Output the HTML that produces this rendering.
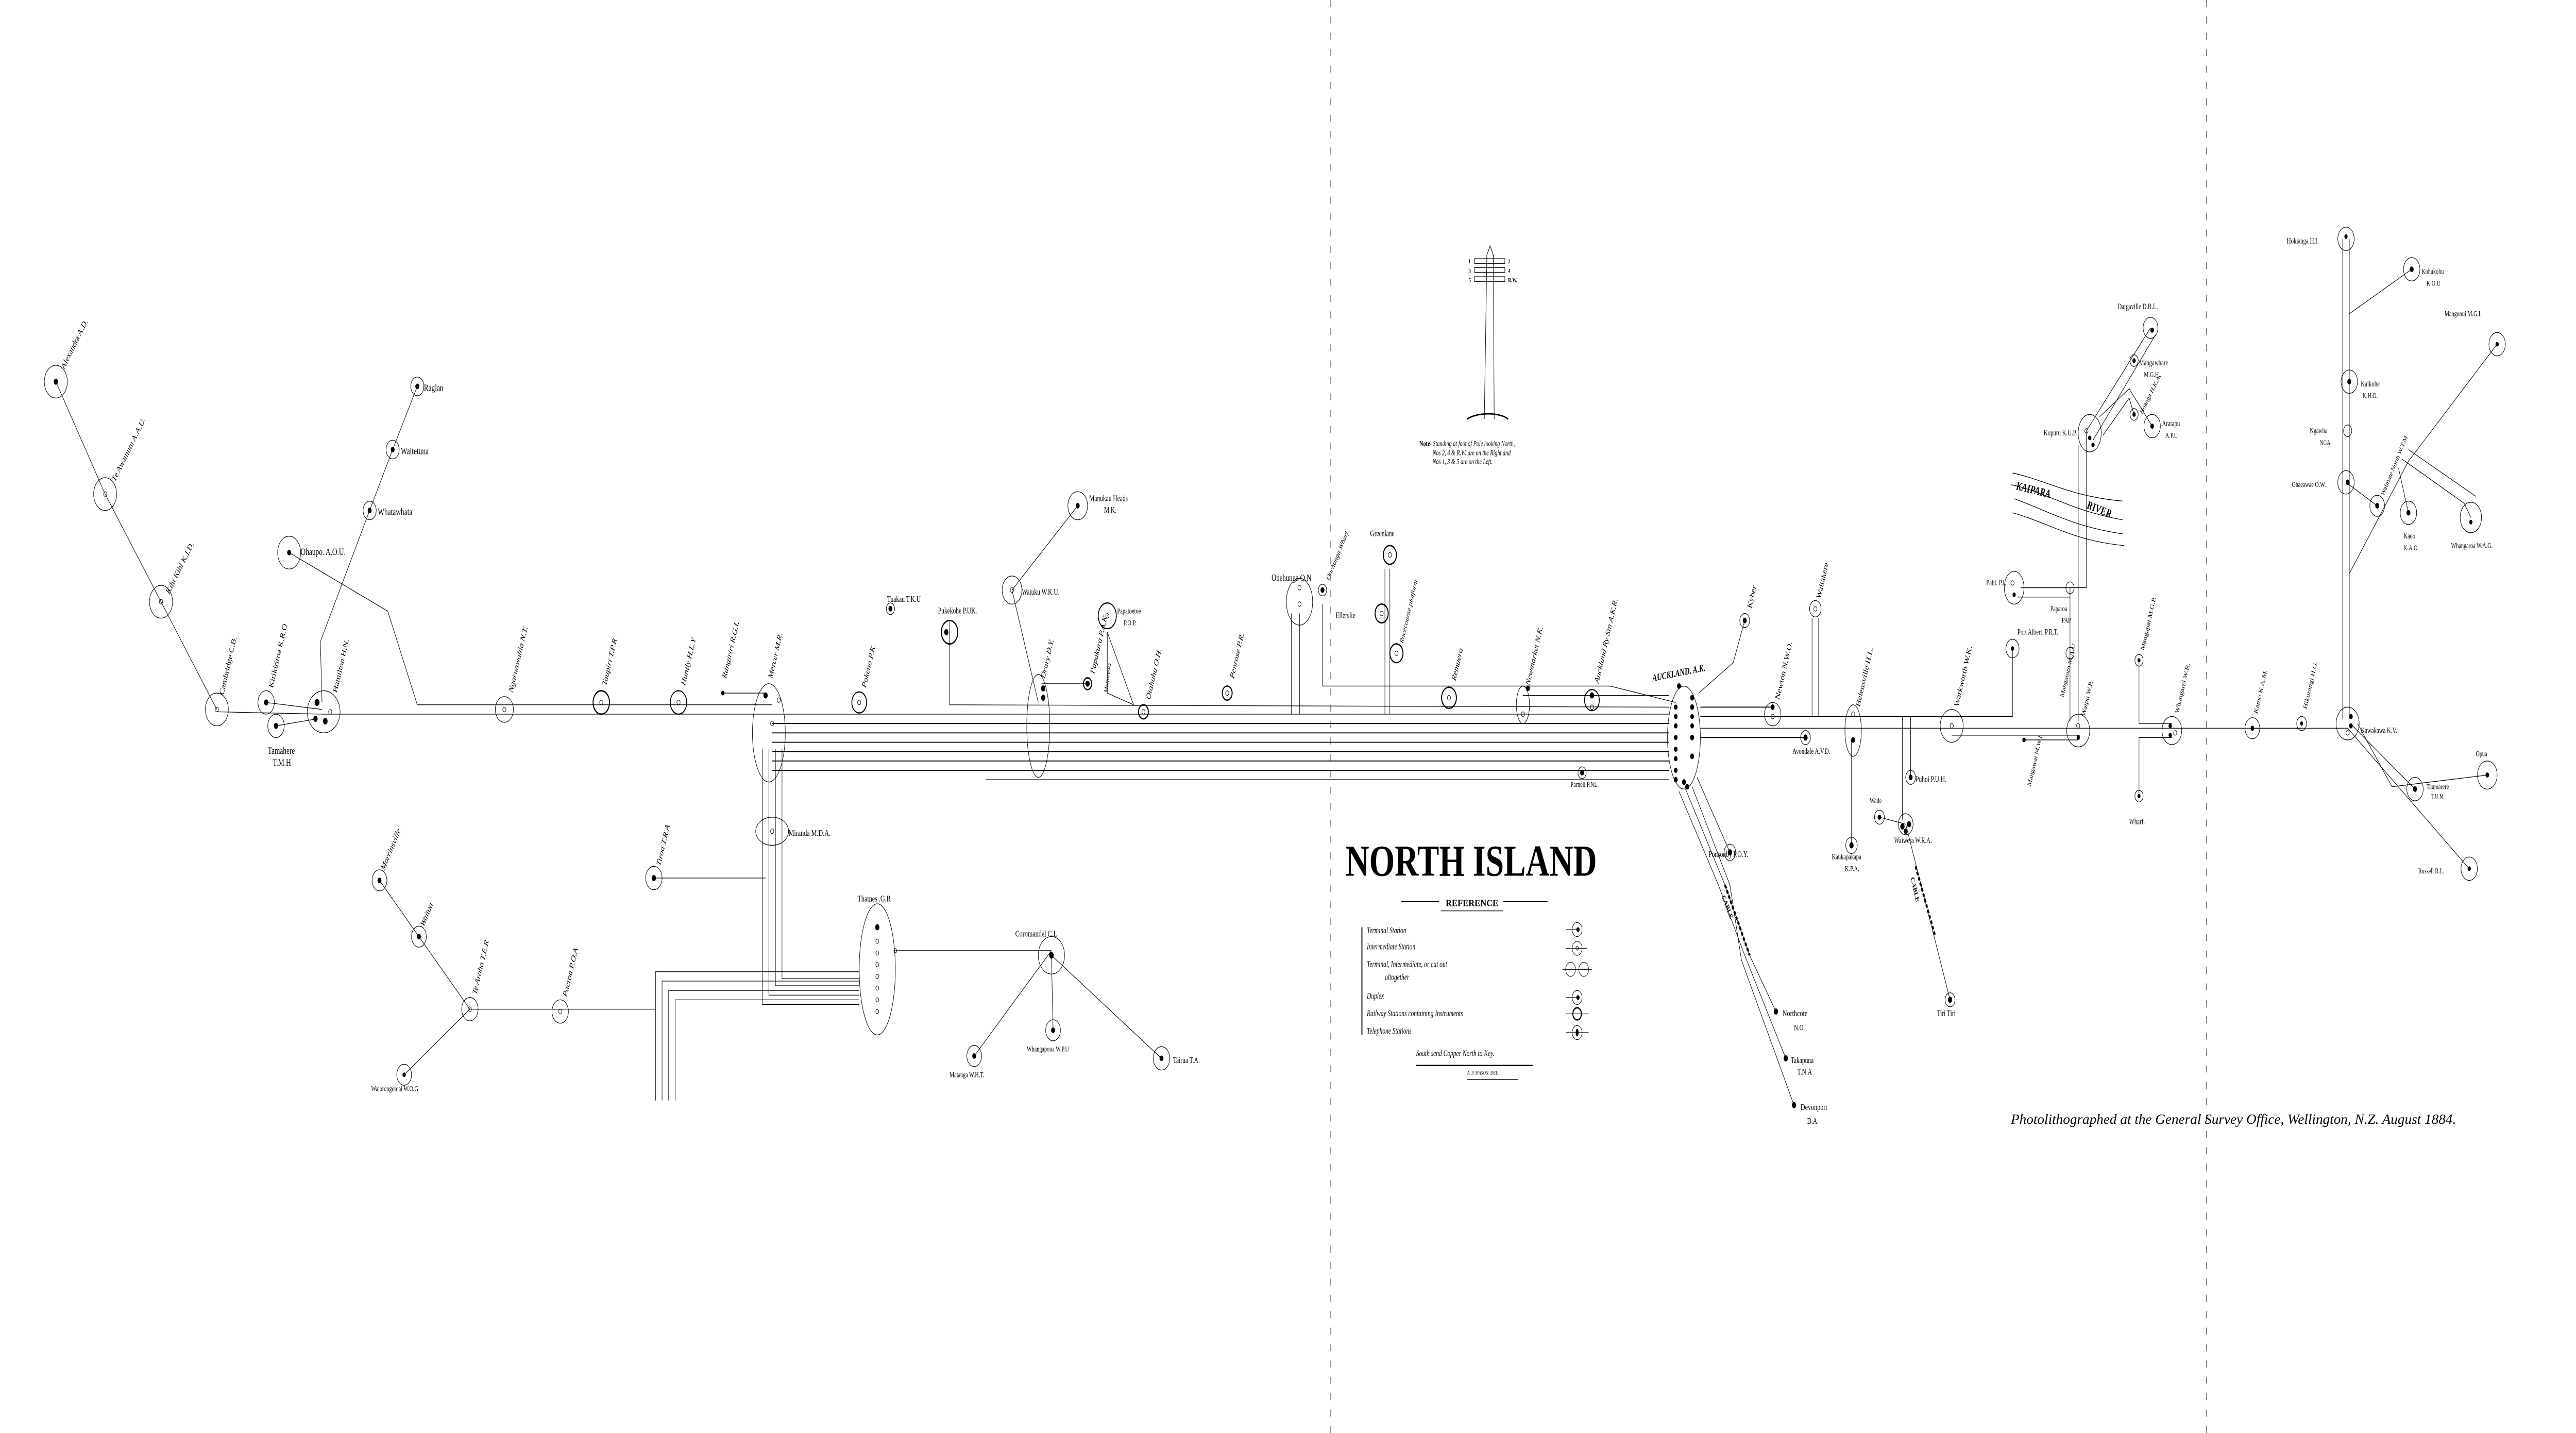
<!DOCTYPE html>
<html><head><meta charset="utf-8"><style>
html,body{margin:0;padding:0;background:#fff;width:100%;height:100%;overflow:hidden;}
svg{display:block;position:fixed;left:0;top:0;width:100vw;height:100vh}
text{font-family:"Liberation Serif",serif;fill:#000}
</style></head><body>
<svg viewBox="0 0 1568 612" preserveAspectRatio="none" xmlns="http://www.w3.org/2000/svg">
<rect width="1568" height="612" fill="#fff"/>
<g fill="none" stroke="#000" stroke-width="0.28">
<line x1="810" y1="0" x2="810" y2="612" stroke-dasharray="3,4" stroke-width="0.2"/>
<line x1="1343" y1="0" x2="1343" y2="612" stroke-dasharray="3,4" stroke-width="0.2"/>

<polyline points="34,163 64,211 98,257 132,303"/>
<polyline points="132,304 197,305"/>
<polyline points="162,300 196,303"/>
<polyline points="168,310 193,307"/>
<polyline points="196,300 195,274 225,218 239,192 254,165"/>
<polyline points="176,236 236,261 254,301 470,301"/>
<line x1="197" y1="305" x2="1016" y2="305"/>
<line x1="440" y1="296" x2="466" y2="296"/>
<polyline points="578,265 578,301 1016,302"/>
<line x1="470" y1="309" x2="1016" y2="309" stroke-width="0.4"/>
<line x1="470" y1="313" x2="1016" y2="313" stroke-width="0.4"/>
<line x1="470" y1="317" x2="1016" y2="317" stroke-width="0.4"/>
<line x1="470" y1="321" x2="1016" y2="321" stroke-width="0.4"/>
<line x1="470" y1="325" x2="1016" y2="325" stroke-width="0.4"/>
<line x1="470" y1="329" x2="1016" y2="329" stroke-width="0.4"/>
<line x1="600" y1="333" x2="1016" y2="333"/>
<polyline points="805,258 805,293 980,293 1020,300"/>
<polyline points="786,262 786,305"/>
<polyline points="791,262 791,305"/>
<polyline points="843,243 843,305"/>
<polyline points="846,243 846,305"/>
<polyline points="662,292 634,292"/>
<polyline points="674,270 674,296 690,301"/>
<polyline points="674,270 690,301"/>
<polyline points="656,216 616,252 632,300"/>
<polyline points="927,297 1016,297"/>
<polyline points="464,320 464,429 523,429"/>
<polyline points="468,320 468,425 523,425"/>
<polyline points="472,320 472,421 523,421"/>
<polyline points="476,320 476,418 523,418"/>
<line x1="398" y1="375" x2="466" y2="375"/>
<polyline points="523,415 399,415 399,470"/>
<polyline points="523,419 403,419 403,470"/>
<polyline points="523,423 407,423 407,470"/>
<polyline points="523,427 411,427 411,470"/>
<polyline points="231,376 255,400 286,431 246,459"/>
<line x1="286" y1="431" x2="399" y2="431"/>
<polyline points="545,406 640,406"/>
<polyline points="640,406 593,451"/>
<polyline points="640,408 641,440"/>
<polyline points="640,408 707,452"/>
<polyline points="1034,296 1055,283 1062,265"/>
<line x1="1035" y1="302" x2="1079" y2="302" stroke-width="0.4"/>
<line x1="1035" y1="306" x2="1190" y2="306"/>
<line x1="1035" y1="311" x2="1429" y2="311"/>
<line x1="1035" y1="315" x2="1099" y2="315" stroke-width="0.4"/>
<polyline points="1103,306 1103,264"/>
<polyline points="1107,306 1107,264"/>
<line x1="1127" y1="316" x2="1127" y2="361"/>
<polyline points="1144,349 1160,352 1187,427"/>
<polyline points="1158,350 1158,306"/>
<polyline points="1163,332 1163,306"/>
<polyline points="1026,337 1050,378 1065,408 1081,432"/>
<polyline points="1022,338 1046,378 1062,408 1087,452"/>
<polyline points="1030,336 1053,378 1060,410 1092,472"/>
<polyline points="1033,332 1053,364"/>
<line x1="1050" y1="378" x2="1065" y2="408" stroke-width="1.2" stroke-dasharray="1.5,1"/>
<line x1="1166" y1="370" x2="1178" y2="400" stroke-width="1.2" stroke-dasharray="1.5,1"/>
<line x1="1188" y1="314" x2="1266" y2="314"/>
<polyline points="1225,277 1225,306 1190,306"/>
<polyline points="1232,316 1265,316"/>
<polyline points="1260,251 1260,308"/>
<polyline points="1270,184 1270,251 1230,251"/>
<polyline points="1228,255 1260,255"/>
<polyline points="1265,308 1265,190"/>
<polyline points="1270,184 1309,140"/>
<polyline points="1274,188 1312,143"/>
<polyline points="1278,178 1296,166 1310,182"/>
<polyline points="1280,186 1296,170 1299,177"/>
<polyline points="1302,282 1302,309 1322,309"/>
<polyline points="1302,340 1302,315 1322,315"/>
<line x1="1426" y1="102" x2="1426" y2="307"/>
<line x1="1430" y1="102" x2="1430" y2="307"/>
<polyline points="1430,134 1468,115"/>
<polyline points="1430,245 1466,197 1520,147"/>
<polyline points="1460,200 1466,219"/>
<polyline points="1462,196 1500,215 1504,221"/>
<polyline points="1466,192 1507,212"/>
<polyline points="1428,206 1447,216"/>
<polyline points="1429,311 1503,371"/>
<polyline points="1432,310 1470,337"/>
<polyline points="1435,309 1456,336 1514,331"/>
<polyline points="1371,311 1401,311"/>
<path d="M1225,202 C1245,205 1260,212 1292,214" stroke-width="0.3"/>
<path d="M1224,207 C1245,210 1260,218 1292,222"/>
<path d="M1226,213 C1246,218 1262,225 1292,228"/>
<path d="M1225,219 C1246,223 1262,231 1293,233"/>

<g>
<circle cx="34" cy="163" r="7"/><circle cx="64" cy="211" r="7"/><circle cx="98" cy="257" r="7"/><circle cx="132" cy="303" r="7"/>
<circle cx="162" cy="300" r="5"/><circle cx="168" cy="310" r="5"/>
<ellipse cx="197" cy="304" rx="10" ry="9"/>
<circle cx="254" cy="165" r="4"/><circle cx="239" cy="192" r="4"/><circle cx="225" cy="218" r="4"/>
<circle cx="176" cy="236" r="7"/>
<circle cx="307" cy="303" r="5.5"/><circle cx="366" cy="300" r="5" stroke-width="0.6"/><circle cx="413" cy="300" r="5" stroke-width="0.5"/>
<ellipse cx="468" cy="313" rx="10" ry="21"/>
<ellipse cx="470" cy="355" rx="10" ry="6"/>
<circle cx="523" cy="300" r="4.5" stroke-width="0.5"/>
<circle cx="542" cy="260" r="2.5"/><circle cx="578" cy="270" r="5" stroke-width="0.6"/>
<circle cx="398" cy="375" r="5"/>
<ellipse cx="534" cy="414" rx="11" ry="28"/>
<circle cx="341" cy="432" r="5"/><circle cx="286" cy="431" r="5"/><circle cx="255" cy="400" r="4.5"/><circle cx="231" cy="376" r="4.5"/><circle cx="246" cy="459" r="4.5"/>
<circle cx="640" cy="408" r="8"/><circle cx="593" cy="451" r="4.5"/><circle cx="641" cy="440" r="4.5"/><circle cx="707" cy="452" r="5"/>
<circle cx="656" cy="216" r="6"/><circle cx="616" cy="252" r="6"/>
<ellipse cx="632" cy="310" rx="7" ry="22"/>
<circle cx="662" cy="292" r="2.5" stroke-width="0.6"/>
<circle cx="674" cy="263" r="5.5" stroke-width="0.5"/>
<circle cx="696" cy="304" r="3" stroke-width="0.6"/>
<circle cx="747" cy="296" r="3" stroke-width="0.6"/>
<ellipse cx="791" cy="257" rx="8" ry="10"/>
<circle cx="805" cy="252" r="2.5"/>
<circle cx="846" cy="237" r="4" stroke-width="0.6"/><circle cx="841" cy="262" r="4" stroke-width="0.6"/><circle cx="850" cy="279" r="4" stroke-width="0.6"/>
<circle cx="882" cy="298" r="4.5" stroke-width="0.6"/>
<ellipse cx="927" cy="301" rx="4" ry="8"/>
<circle cx="969" cy="299" r="4.5" stroke-width="0.5"/>
<circle cx="963" cy="330" r="2.5"/>
<ellipse cx="1025" cy="315" rx="10" ry="22"/>
<circle cx="1062" cy="265" r="3"/><circle cx="1079" cy="305" r="5"/><circle cx="1105" cy="260" r="3.5"/>
<ellipse cx="1128" cy="312" rx="5" ry="11"/>
<circle cx="1099" cy="315" r="3"/><circle cx="1127" cy="361" r="3.5"/><circle cx="1053" cy="364" r="3.5"/>
<circle cx="1144" cy="349" r="3"/><circle cx="1160" cy="352" r="4.5"/><circle cx="1163" cy="332" r="3"/><circle cx="1187" cy="427" r="3"/>
<circle cx="1188" cy="310" r="7"/>
<circle cx="1225" cy="277" r="4"/>
<circle cx="1260" cy="279" r="2.5"/>
<ellipse cx="1226" cy="251" rx="6" ry="7"/>
<circle cx="1260" cy="251" r="2.5"/>
<circle cx="1265" cy="312" r="7"/>
<ellipse cx="1272" cy="185" rx="7" ry="8"/>
<circle cx="1309" cy="140" r="4.5"/><circle cx="1299" cy="154" r="2.5"/><circle cx="1310" cy="182" r="5"/><circle cx="1299" cy="177" r="2.5"/>
<circle cx="1302" cy="282" r="2.5"/><circle cx="1302" cy="340" r="2.5"/><circle cx="1322" cy="312" r="6"/>
<circle cx="1371" cy="311" r="4.5"/><circle cx="1401" cy="309" r="3"/>
<circle cx="1428" cy="102" r="5"/><circle cx="1468" cy="115" r="5"/><circle cx="1430" cy="163" r="5"/><circle cx="1429" cy="184" r="2.5"/>
<circle cx="1428" cy="206" r="5"/><circle cx="1447" cy="216" r="4.5"/><circle cx="1466" cy="219" r="5"/><circle cx="1520" cy="147" r="5"/>
<circle cx="1504" cy="221" r="6.5"/>
<circle cx="1429" cy="309" r="7"/><circle cx="1514" cy="331" r="6"/><circle cx="1470" cy="337" r="5"/><circle cx="1503" cy="371" r="5"/>
</g>
</g>

<g fill="#000">
<circle cx="34" cy="163" r="1.3"/><circle cx="162" cy="300" r="1.3"/><circle cx="168" cy="310" r="1.3"/>
<circle cx="193" cy="300" r="1.5"/><circle cx="192" cy="307" r="1.3"/><circle cx="198" cy="308" r="1.4"/>
<circle cx="254" cy="165" r="1.2"/><circle cx="239" cy="192" r="1.2"/><circle cx="225" cy="218" r="1.2"/><circle cx="176" cy="236" r="1.2"/>
<circle cx="466" cy="297" r="1.3"/><circle cx="440" cy="296" r="1"/><circle cx="542" cy="260" r="1.2"/><circle cx="576" cy="270" r="1.3"/>
<circle cx="398" cy="375" r="1.3"/><circle cx="534" cy="396" r="1.3"/>
<circle cx="231" cy="376" r="1.2"/><circle cx="255" cy="400" r="1.2"/><circle cx="246" cy="459" r="1"/>
<circle cx="640" cy="408" r="1.4"/><circle cx="593" cy="451" r="1.2"/><circle cx="641" cy="440" r="1.2"/><circle cx="707" cy="452" r="1.2"/>
<circle cx="656" cy="216" r="1.2"/><circle cx="635" cy="294" r="1.3"/><circle cx="635" cy="298" r="1.3"/><circle cx="662" cy="292" r="1.3"/>
<circle cx="805" cy="252" r="1.2"/><circle cx="930" cy="294" r="1.2"/><circle cx="969" cy="297" r="1.3"/><circle cx="963" cy="330" r="1.2"/>
<circle cx="1020" cy="302" r="1.1"/><circle cx="1020" cy="306" r="1.1"/><circle cx="1020" cy="310" r="1.1"/><circle cx="1020" cy="315" r="1.1"/><circle cx="1020" cy="320" r="1.1"/><circle cx="1020" cy="324" r="1.1"/><circle cx="1020" cy="329" r="1.1"/><circle cx="1020" cy="333" r="1.2"/>
<circle cx="1030" cy="298" r="1.2"/><circle cx="1030" cy="302" r="1.2"/><circle cx="1030" cy="306" r="1.1"/><circle cx="1030" cy="310" r="1.1"/><circle cx="1030" cy="315" r="1.2"/><circle cx="1030" cy="323" r="1.2"/><circle cx="1022" cy="293" r="1.2"/><circle cx="1025" cy="334" r="1.2"/><circle cx="1027" cy="336" r="1.2"/>
<circle cx="1062" cy="265" r="1.2"/><circle cx="1079" cy="302" r="1.2"/><circle cx="1099" cy="315" r="1.3"/><circle cx="1128" cy="316" r="1.2"/><circle cx="1127" cy="361" r="1.3"/><circle cx="1053" cy="364" r="1.3"/>
<circle cx="1081" cy="432" r="1.3"/><circle cx="1087" cy="452" r="1.3"/><circle cx="1092" cy="472" r="1.3"/>
<circle cx="1144" cy="349" r="1.1"/><circle cx="1158" cy="353" r="1.3"/><circle cx="1162" cy="352" r="1.3"/><circle cx="1160" cy="355" r="1.2"/><circle cx="1163" cy="332" r="1.2"/><circle cx="1187" cy="427" r="1.3"/>
<circle cx="1225" cy="277" r="1"/><circle cx="1226" cy="254" r="1"/><circle cx="1265" cy="315" r="1"/><circle cx="1272" cy="187" r="1"/><circle cx="1274" cy="190" r="1"/>
<circle cx="1310" cy="141" r="1.1"/><circle cx="1310" cy="182" r="1.1"/><circle cx="1299" cy="177" r="1"/><circle cx="1299" cy="154" r="1"/>
<circle cx="1321" cy="310" r="1"/><circle cx="1321" cy="314" r="1"/><circle cx="1232" cy="316" r="1"/><circle cx="1302" cy="282" r="0.9"/><circle cx="1302" cy="340" r="0.9"/><circle cx="1371" cy="311" r="1.1"/><circle cx="1401" cy="309" r="0.9"/>
<circle cx="1428" cy="101" r="1"/><circle cx="1468" cy="115" r="1.2"/><circle cx="1430" cy="163" r="1.2"/><circle cx="1429" cy="206" r="1.2"/><circle cx="1447" cy="216" r="1.2"/><circle cx="1466" cy="219" r="1.2"/><circle cx="1520" cy="147" r="1"/>
<circle cx="1504" cy="223" r="1"/><circle cx="1431" cy="306" r="1.1"/><circle cx="1431" cy="310" r="1.1"/><circle cx="1514" cy="331" r="1.1"/><circle cx="1470" cy="337" r="1.2"/><circle cx="1503" cy="371" r="1"/>
</g>
<g fill="none" stroke="#000" stroke-width="0.25">
<circle cx="64" cy="211" r="1"/><circle cx="98" cy="257" r="1"/><circle cx="132" cy="303" r="1"/><circle cx="201" cy="304" r="1"/>
<circle cx="307" cy="303" r="1"/><circle cx="366" cy="300" r="1"/><circle cx="413" cy="300" r="1"/><circle cx="523" cy="300" r="1"/>
<circle cx="470" cy="309" r="1"/><circle cx="474" cy="299" r="1"/><circle cx="470" cy="355" r="1"/><circle cx="341" cy="432" r="1"/><circle cx="286" cy="431" r="1"/>
<circle cx="616" cy="252" r="1"/><circle cx="674" cy="263" r="1"/><circle cx="696" cy="304" r="1"/><circle cx="747" cy="296" r="1"/>
<circle cx="791" cy="251" r="1"/><circle cx="791" cy="258" r="1"/><circle cx="846" cy="237" r="1"/><circle cx="841" cy="262" r="1"/><circle cx="850" cy="279" r="1"/><circle cx="882" cy="298" r="1"/><circle cx="927" cy="305" r="1"/><circle cx="969" cy="302" r="1"/>
<circle cx="1079" cy="306" r="1"/><circle cx="1105" cy="260" r="1"/><circle cx="1128" cy="305" r="1"/><circle cx="1188" cy="310" r="1"/><circle cx="1265" cy="310" r="1"/><circle cx="1270" cy="184" r="1"/><circle cx="1225" cy="249" r="1"/><circle cx="1324" cy="313" r="1"/><circle cx="1429" cy="313" r="1"/>
<circle cx="534" cy="402" r="0.9"/><circle cx="534" cy="407" r="0.9"/><circle cx="534" cy="412" r="0.9"/><circle cx="534" cy="417" r="0.9"/><circle cx="534" cy="422" r="0.9"/><circle cx="534" cy="427" r="0.9"/><circle cx="534" cy="432" r="0.9"/><circle cx="545" cy="406" r="0.9"/>
</g>

<g fill="none" stroke="#000" stroke-width="0.3">
<polyline points="903.5,179 905,112 905,109 907,105 909,109 909,112 909.5,179"/>
<rect x="897.5" y="110.5" width="18.5" height="2"/>
<rect x="897.5" y="114.3" width="18.5" height="2"/>
<rect x="897.5" y="118.2" width="18.5" height="2"/>
<path d="M893,179 C899,176 913,176 918,179" stroke-width="0.6"/>
</g>
<g font-size="2.6" font-weight="bold">
<text x="894" y="112.5">I</text><text x="918" y="112.5">2</text>
<text x="894" y="116.5">3</text><text x="918" y="116.5">4</text>
<text x="894" y="120.5">5</text><text x="918" y="120.5">R.W.</text>
</g>
<g font-size="3.2" font-style="italic">
<text x="864" y="190.5"><tspan font-weight="bold" font-style="normal">Note-</tspan> Standing at foot of Pole looking North,</text>
<text x="872" y="194.4">Nos 2, 4 &amp; R.W. are on the Right and</text>
<text x="872" y="198.2">Nos 1, 3 &amp; 5 are on the Left.</text>
</g>

<text x="819" y="374" font-family="Liberation Sans,sans-serif" font-weight="bold" font-size="19" textLength="153" lengthAdjust="spacingAndGlyphs">NORTH ISLAND</text>
<g stroke="#000" stroke-width="0.3">
<line x1="853" y1="385" x2="876" y2="385"/><line x1="915" y1="385" x2="942" y2="385"/>
<line x1="877" y1="389" x2="915" y2="389"/>
<line x1="829" y1="396" x2="829" y2="442" stroke-width="0.6"/>
<line x1="862" y1="455" x2="933" y2="455" stroke-width="0.5"/>
<line x1="893" y1="461" x2="924" y2="461"/>
</g>
<text x="880" y="387" font-family="Liberation Sans,sans-serif" font-weight="bold" font-size="4" textLength="32" lengthAdjust="spacingAndGlyphs">REFERENCE</text>
<g font-size="3.6" font-style="italic">
<text x="832" y="398.5">Terminal Station</text>
<text x="832" y="405.5">Intermediate Station</text>
<text x="832" y="413">Terminal, Intermediate, or cut out</text>
<text x="843" y="418.5">altogether</text>
<text x="832" y="426.5">Duplex</text>
<text x="832" y="434">Railway Stations containing Instruments</text>
<text x="832" y="441.5">Telephone Stations</text>
<text x="862" y="451">South send Copper North to Key.</text>
</g>
<text x="893" y="459" font-family="Liberation Sans,sans-serif" font-style="italic" font-size="2.4">A. P. MASON. DEL.</text>
<g fill="none" stroke="#000" stroke-width="0.25">
<circle cx="960" cy="397" r="3"/><line x1="953" y1="397" x2="960" y2="397"/>
<circle cx="960" cy="405" r="3"/><line x1="953" y1="405" x2="966" y2="405"/><circle cx="960" cy="405" r="0.8"/>
<circle cx="956" cy="414" r="3"/><circle cx="964" cy="414" r="3"/><line x1="951" y1="414" x2="969" y2="414"/>
<circle cx="960" cy="426" r="3"/><line x1="953" y1="426" x2="960" y2="426"/>
<circle cx="960" cy="433" r="2.6" stroke-width="0.6"/><line x1="953" y1="433" x2="967" y2="433"/>
<circle cx="960" cy="441" r="3"/><line x1="953" y1="441" x2="967" y2="441"/>
</g>
<g fill="#000"><circle cx="960.5" cy="397" r="1"/><circle cx="960.5" cy="426" r="1"/><ellipse cx="960" cy="441" rx="0.9" ry="1.6"/></g>

<g font-size="4.2">
<text x="163" y="322">Tamahere</text><text x="166" y="327">T.M.H</text>
<text x="258" y="167">Raglan</text><text x="244" y="194">Waitetuna</text><text x="230" y="220">Whatawhata</text>
<text x="183" y="237">Ohaupo. A.O.U.</text>
<text x="540" y="257" font-size="3.6">Tuakau T.K.U</text>
<text x="571" y="262" font-size="3.6">Pukekohe P.UK.</text>
<text x="480" y="357" font-size="3.8">Miranda M.D.A.</text>
<text x="522" y="385" font-size="3.8">Thames .G.R</text>
<text x="618" y="400" font-size="3.8">Coromandel C.L.</text>
<text x="578" y="460" font-size="3.2">Matanga W.H.T.</text>
<text x="625" y="449" font-size="3.2">Whangapoua W.P.U</text>
<text x="714" y="454" font-size="3.6">Tairua T.A.</text>
<text x="226" y="466" font-size="3.2">Waiorongomai W.O.G</text>
<text x="663" y="214" font-size="3.6">Manukau Heads</text><text x="672" y="219" font-size="3.6">M.K.</text>
<text x="622" y="254" font-size="3.6">Waiuku W.K.U.</text>
<text x="680" y="262" font-size="3.3">Papatoetoe</text><text x="684" y="267" font-size="3.3">P.O.P.</text>
<text x="774" y="248" font-size="4">Onehunga O.N</text>
<text x="813" y="264" font-size="3.6">Ellerslie</text>
<text x="834" y="229" font-size="3.6">Greenlane</text>
<text x="956" y="336" font-size="3.2">Parnell P.NL</text>
<text x="1040" y="366" font-size="3.6">Ponsonby P.O.Y.</text>
<text x="1091" y="322" font-size="3.4">Avondale A.V.D.</text>
<text x="1115" y="367" font-size="3.3">Kaukapakapa</text><text x="1123" y="372" font-size="3.3">K.P.A.</text>
<text x="1138" y="343" font-size="3.3">Wade</text>
<text x="1166" y="334" font-size="3.6">Puhoi P.U.H.</text>
<text x="1153" y="360" font-size="3.4">Waiwera W.R.A.</text>
<text x="1179" y="434" font-size="3.6">Tiri Tiri</text>
<text x="1085" y="434" font-size="3.8">Northcote</text><text x="1092" y="440" font-size="3.4">N.O.</text>
<text x="1090" y="454" font-size="3.6">Takapuna</text><text x="1094" y="459" font-size="3.6">T.N.A</text>
<text x="1096" y="474" font-size="3.8">Devonport</text><text x="1100" y="480" font-size="3.6">D.A.</text>
<text x="1228" y="271" font-size="3.4">Port Albert. P.R.T.</text>
<text x="1209" y="250" font-size="3.4">Pahi. P.I.</text>
<text x="1248" y="261" font-size="3.2">Paparoa</text><text x="1255" y="266" font-size="3.2">PAP</text>
<text x="1244" y="186" font-size="3.4">Kopuru K.U.P.</text>
<text x="1289" y="132" font-size="3.4">Dargaville D.R.L.</text>
<text x="1302" y="156" font-size="3.4">Mangawhare</text><text x="1305" y="161" font-size="3.2">M.G.H.</text>
<text x="1316" y="182" font-size="3.4">Aratapu</text><text x="1318" y="187" font-size="3.2">A.P.U</text>
<text x="1296" y="352" font-size="3.4">Wharf.</text>
<text x="1392" y="104" font-size="3.4">Hokianga H.I.</text>
<text x="1474" y="117" font-size="3.2">Kohukohu</text><text x="1477" y="122" font-size="3.2">K.O.U</text>
<text x="1437" y="165" font-size="3.4">Kaikohe</text><text x="1438" y="170" font-size="3.2">K.H.O.</text>
<text x="1406" y="185" font-size="3.2">Ngawha</text><text x="1412" y="190" font-size="3">NGA</text>
<text x="1395" y="208" font-size="3.2">Ohaeawae O.W.</text>
<text x="1463" y="230" font-size="3.4">Kaeo</text><text x="1463" y="235" font-size="3.2">K.A.O.</text>
<text x="1492" y="234" font-size="3.2">Whangaroa W.A.G.</text>
<text x="1488" y="135" font-size="3.2">Mangonui M.G.I.</text>
<text x="1437" y="313" font-size="3.4">Kawakawa K.V.</text>
<text x="1507" y="323" font-size="3.2">Opua</text>
<text x="1477" y="337" font-size="3.2">Taumarere</text><text x="1480" y="341" font-size="2.8">T.U.M</text>
<text x="1472" y="373" font-size="3.2">Russell R.L.</text>
<text x="1224" y="480" font-size="6" font-style="italic" textLength="271" lengthAdjust="spacingAndGlyphs">Photolithographed at the General Survey Office, Wellington, N.Z. August 1884.</text>
</g>

<g font-size="4">
<text transform="translate(39,158) rotate(-55)">Alexandra A.D.</text>
<text transform="translate(70,206) rotate(-55)">Te Awamutu A.A.U.</text>
<text transform="translate(103,254) rotate(-55)">Kihi Kihi K.I.D.</text>
<text transform="translate(136,297) rotate(-72)">Cambridge C.B.</text>
<text transform="translate(166,294) rotate(-72)">Kirikiriroa K.R.O</text>
<text transform="translate(205,296) rotate(-72)">Hamilton H.N.</text>
<text font-style="italic" transform="translate(312,296) rotate(-72)">Ngaruawahia N.T.</text>
<text font-style="italic" transform="translate(369,293) rotate(-72)">Taupiri T.P.R</text>
<text font-style="italic" transform="translate(417,293) rotate(-72)">Huntly H.L.Y</text>
<text font-style="italic" transform="translate(442,290) rotate(-72)">Rangiriri R.G.I.</text>
<text font-style="italic" transform="translate(470,290) rotate(-72)">Mercer M.R.</text>
<text font-style="italic" transform="translate(527,294) rotate(-72)">Pokeno P.K.</text>
<text font-style="italic" transform="translate(402,370) rotate(-72)">Tiroa T.R.A</text>
<text font-style="italic" transform="translate(345,426) rotate(-72)">Paeroa P.O.A</text>
<text font-style="italic" transform="translate(290,425) rotate(-72)">Te Aroha T.E.R</text>
<text font-style="italic" transform="translate(258,396) rotate(-60)">Waitoa</text>
<text font-style="italic" transform="translate(234,372) rotate(-60)">Morrinsville</text>
<text font-style="italic" transform="translate(636,290) rotate(-72)">Drury D.Y.</text>
<text font-style="italic" transform="translate(666,288) rotate(-72)">Papakura P.A.K.</text>
<text font-style="italic" font-size="3" transform="translate(674,296) rotate(-80)">Manurewa</text>
<text font-style="italic" transform="translate(700,299) rotate(-72)">Otahuhu O.H.</text>
<text font-style="italic" transform="translate(751,290) rotate(-72)">Penrose P.R.</text>
<text font-style="italic" font-size="3.4" transform="translate(809,248) rotate(-60)">Onehunga Wharf</text>
<text font-style="italic" font-size="3.4" transform="translate(854,275) rotate(-72)">Racecourse platform</text>
<text font-style="italic" transform="translate(886,291) rotate(-72)">Remuera</text>
<text font-style="italic" transform="translate(931,293) rotate(-72)">Newmarket N.K.</text>
<text font-style="italic" transform="translate(973,292) rotate(-72)">Auckland Ry Stn A.K.R.</text>
<text font-weight="bold" font-style="italic" font-family="Liberation Sans,sans-serif" font-size="4.2" transform="translate(1006,291) rotate(-8)">AUCKLAND. A.K.</text>
<text transform="translate(1066,260) rotate(-72)">Kyber</text>
<text transform="translate(1083,299) rotate(-72)">Newton N.W.O.</text>
<text transform="translate(1108,256) rotate(-72)">Waitakere</text>
<text transform="translate(1132,302) rotate(-72)">Helensville H.L.</text>
<text transform="translate(1192,302) rotate(-72)">Warkworth W.K.</text>
<text font-weight="bold" font-family="Liberation Sans,sans-serif" font-size="3.2" transform="translate(1048,383) rotate(62)">CABLE</text>
<text font-weight="bold" font-family="Liberation Sans,sans-serif" font-size="3.2" transform="translate(1163,375) rotate(72)">CABLE</text>
<text font-size="3.2" transform="translate(1236,336) rotate(-72)">Mangawai M.W.I</text>
<text font-size="3.2" transform="translate(1256,298) rotate(-72)">Mangatoro M.A.U</text>
<text font-size="3.4" transform="translate(1269,306) rotate(-72)">Waipu W.P.</text>
<text font-size="3.4" transform="translate(1305,278) rotate(-72)">Mangapai M.G.P.</text>
<text font-size="3.4" transform="translate(1326,305) rotate(-72)">Whangarei W.R.</text>
<text font-size="3.4" transform="translate(1374,305) rotate(-72)">Kamo K.A.M.</text>
<text font-size="3.4" transform="translate(1404,303) rotate(-72)">Hikurangi H.G.</text>
<text font-size="3.2" transform="translate(1451,212) rotate(-60)">Waimate North W.T.M</text>
<text font-size="3.2" transform="translate(1304,177) rotate(-55)">Hoanga H.K.A.</text>
<text font-weight="bold" font-style="italic" font-family="Liberation Sans,sans-serif" font-size="5" transform="translate(1227,209) rotate(10)">KAIPARA</text>
<text font-weight="bold" font-style="italic" font-family="Liberation Sans,sans-serif" font-size="5" transform="translate(1270,217) rotate(16)">RIVER</text>
</g>
</svg>
</body></html>
